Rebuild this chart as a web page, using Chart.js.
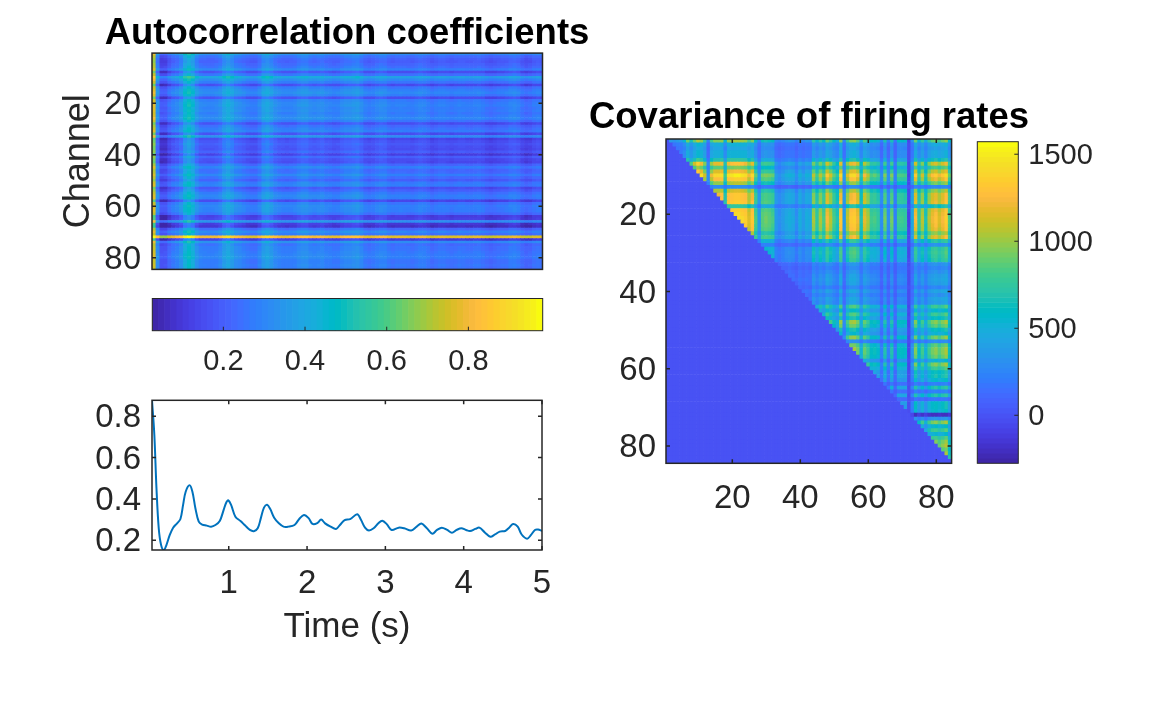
<!DOCTYPE html>
<html>
<head>
<meta charset="utf-8">
<title>Autocorrelation and covariance</title>
<script src="https://cdn.jsdelivr.net/npm/chart.js"></script>
<style>
  html, body { margin: 0; background: #fff; }
  body { position: relative; width: 1167px; height: 715px; overflow: hidden; }
  canvas { position: absolute; }
</style>
</head>
<body>
<canvas id="autoMap"></canvas>
<canvas id="autoBar"></canvas>
<canvas id="meanLine"></canvas>
<canvas id="covMap"></canvas>
<canvas id="covBar"></canvas>
<script>
// ---- data ----

// column centres (s) of the autocorrelation map
const lagColumns = [0.045,0.095,0.145,0.195,0.245,0.295,0.345,0.395,0.445,0.495,0.545,0.595,0.645,0.695,0.745,0.795,0.845,0.895,0.945,0.995,
  1.045,1.095,1.145,1.195,1.245,1.295,1.345,1.395,1.445,1.495,1.545,1.595,1.645,1.695,1.745,1.795,1.845,1.895,1.945,1.995,
  2.045,2.095,2.145,2.195,2.245,2.295,2.345,2.395,2.445,2.495,2.545,2.595,2.645,2.695,2.745,2.795,2.845,2.895,2.945,2.995,
  3.045,3.095,3.145,3.195,3.245,3.295,3.345,3.395,3.445,3.495,3.545,3.595,3.645,3.695,3.745,3.795,3.845,3.895,3.945,3.995,
  4.045,4.095,4.145,4.195,4.245,4.295,4.345,4.395,4.445,4.495,4.545,4.595,4.645,4.695,4.745,4.795,4.845,4.895,4.945,4.995];

// level of each map column
const lagLevels = [.74,.31,.165,.17,.225,.263,.284,.325,.425,.465,.42,.325,.28,.273,.268,.268,.278,.30,.36,.393,
  .355,.31,.295,.277,.258,.246,.249,.285,.352,.37,.34,.30,.28,.267,.265,.269,.275,.30,.318,.315,
  .29,.28,.29,.297,.278,.267,.257,.262,.285,.30,.302,.315,.325,.295,.26,.247,.258,.276,.292,.286,
  .26,.25,.258,.26,.258,.252,.249,.264,.278,.27,.252,.234,.245,.257,.257,.248,.238,.246,.255,.254,
  .248,.247,.255,.26,.248,.23,.218,.227,.238,.244,.248,.266,.276,.262,.226,.21,.22,.244,.252,.245];

// how far each channel (row) sits above or below the mean
const channelOffsets = [.06,-.02,-.05,-.06,-.04,-.02,.03,-.10,-.01,.12,.05,0,-.11,0,.03,.05,.02,-.10,.01,.03,
  .04,.02,.03,.01,.03,.05,0,-.10,-.03,0,.02,-.10,.06,-.12,-.09,-.07,-.09,-.10,-.06,-.14,
  -.05,-.10,-.11,-.03,.02,-.03,-.02,.03,-.02,-.06,.01,.02,-.09,-.05,0,.03,.02,-.12,0,.03,
  .02,.02,-.02,-.14,-.13,.07,-.16,-.18,-.03,.04,0,.52,-.15,.06,-.02,0,0,.01,.02,.03,0,0,.01,0];

// mean autocorrelation curve
const curveTimes = [.02,.05,.077,.106,.136,.17,.204,.247,.29,.34,.383,.417,.45,.50,.536,.574,.617,.66,.72,.775,.83,.885,.935,.97,.995,
  1.03,1.085,1.15,1.21,1.27,1.32,1.37,1.41,1.45,1.49,1.53,1.58,1.64,1.70,1.76,1.84,1.90,1.96,
  2.02,2.07,2.13,2.18,2.23,2.30,2.37,2.42,2.48,2.55,2.64,2.69,2.74,2.79,2.85,2.91,2.96,
  3.02,3.08,3.17,3.24,3.33,3.40,3.46,3.53,3.60,3.66,3.72,3.79,3.85,3.91,3.97,
  4.03,4.08,4.15,4.20,4.27,4.34,4.40,4.46,4.53,4.58,4.63,4.69,4.74,4.81,4.86,4.91,4.95,5.0];
const curveValues = [.877,.709,.452,.258,.177,.153,.177,.226,.261,.282,.303,.371,.435,.466,.435,.355,.290,.276,.271,.266,.274,.293,.347,.384,.393,
  .371,.314,.293,.271,.250,.244,.258,.307,.358,.372,.351,.309,.282,.266,.266,.274,.303,.322,
  .307,.279,.283,.300,.282,.266,.255,.274,.298,.302,.326,.298,.261,.247,.258,.282,.295,
  .277,.25,.261,.258,.247,.266,.281,.258,.232,.25,.261,.25,.237,.25,.258,
  .25,.245,.255,.261,.238,.217,.228,.242,.245,.261,.279,.266,.228,.208,.226,.25,.252,.245];

// strength of each channel in the covariance map, as row and as column
const rowWeights = [27,14,12,14,14,20,34,25,33,40,36,28,8,30,35,35,36,20,36,37,
  38,38,37,36,30,35,22,10,23,24,23,22,10,8,10,12,13,12,8,13,
  10,13,12,24,17,24,19,29,26,19,16,28,9,26,29,29,27,16,29,24,
  19,20,17,7,21,7,21,5,18,18,17,-6,10,29,17,24,16,24,28,30,26,29,31,19];
const colWeights = [27,14,12,14,14,20,34,25,33,40,36,28,8,30,35,35,36,20,36,37,
  38,38,37,36,30,35,22,10,23,24,23,22,10,8,10,12,13,12,8,13,
  10,13,12,27,20,27,22,33,28,22,18,35,10,29,35,36,32,18,31,27,
  21,22,20,8,24,8,24,6,21,21,20,-2,12,33,20,28,18,28,32,34,30,33,36,22];

const channelNumbers = [1,2,3,4,5,6,7,8,9,10,11,12,13,14,15,16,17,18,19,20,21,22,23,24,25,26,27,28,29,30,31,32,33,34,35,36,37,38,39,40,41,42,
  43,44,45,46,47,48,49,50,51,52,53,54,55,56,57,58,59,60,61,62,63,64,65,66,67,68,69,70,71,72,73,74,75,76,77,78,79,80,81,82,83,84];

// tick labels
const channelTicks = [20, 40, 60, 80];
const autoBarTicks = [0.2, 0.4, 0.6, 0.8];
const curveYTicks = [0.2, 0.4, 0.6, 0.8];
const curveXTicks = [1, 2, 3, 4, 5];
const covBarTicks = [0, 500, 1000, 1500];

// colour limits
const autoLimits = [0.026, 0.982];
const covLimits = [-276, 1572];

// parula, 64 steps
const parula = [[.2422,.1504,.6603],[.2504,.165,.7076],[.2578,.1818,.7511],[.2647,.1978,.7952],[.2706,.2147,.8364],[.2751,.2342,.871],[.2783,.2559,.8991],[.2803,.2782,.9221],
  [.2813,.3006,.9414],[.281,.3228,.9579],[.2795,.3447,.9717],[.276,.3667,.9829],[.2699,.3892,.9906],[.2602,.4123,.9952],[.244,.4358,.9988],[.2206,.4603,.9973],
  [.1963,.4847,.9892],[.1834,.5074,.9798],[.1786,.5289,.9682],[.1764,.5499,.952],[.1687,.5703,.9359],[.154,.5902,.9218],[.146,.6091,.9079],[.138,.6276,.8973],
  [.1248,.6459,.8883],[.1113,.6635,.8763],[.0952,.6798,.8598],[.0689,.6948,.8394],[.0297,.7082,.8163],[.0036,.7203,.7917],[.0067,.7312,.766],[.0433,.7411,.7394],
  [.0964,.75,.712],[.1408,.7584,.6842],[.1717,.767,.6554],[.1938,.7758,.6251],[.2161,.7843,.5923],[.247,.7918,.5567],[.2906,.7973,.5188],[.3406,.8008,.4789],
  [.3909,.8029,.4354],[.4456,.8024,.3909],[.5044,.7993,.348],[.5616,.7942,.3045],[.6174,.7876,.2612],[.672,.7793,.2227],[.7242,.7698,.191],[.7738,.7598,.1646],
  [.8203,.7498,.1535],[.8634,.7406,.1596],[.9035,.733,.1774],[.9393,.7288,.21],[.9728,.7298,.2394],[.9956,.7434,.2371],[.997,.7659,.2199],[.9952,.7861,.1963],
  [.9892,.8086,.1816],[.9786,.8297,.1746],[.9676,.8515,.1671],[.961,.872,.1537],[.9597,.8949,.1384],[.9628,.9207,.1173],[.9691,.9463,.0948],[.9763,.9831,.0538]];

// ---- helpers ----

const TEXT = '#262626';
const FONT = 'Liberation Sans';

function toColor(value, limits) {
  const pos = (value - limits[0]) / (limits[1] - limits[0]);
  const idx = Math.max(0, Math.min(63, Math.floor(pos * 64)));
  const c = parula[idx];
  return `rgb(${Math.round(c[0] * 255)},${Math.round(c[1] * 255)},${Math.round(c[2] * 255)})`;
}

// box and inward tick marks, the way MATLAB draws its axes
const axesBox = {
  id: 'axesBox',
  afterDatasetsDraw(chart, args, opts) {
    const { ctx, chartArea: a } = chart;
    ctx.save();
    ctx.strokeStyle = TEXT;
    ctx.lineWidth = opts.width;
    ctx.strokeRect(a.left, a.top, a.right - a.left, a.bottom - a.top);
    const len = opts.tick;
    ctx.beginPath();
    Object.values(chart.scales).forEach(s => {
      if (!s.options.display) return;
      s.ticks.forEach(t => {
        const p = s.getPixelForValue(t.value);
        if (s.isHorizontal()) {
          ctx.moveTo(p, a.bottom); ctx.lineTo(p, a.bottom - len);
          if (opts.mirror) { ctx.moveTo(p, a.top); ctx.lineTo(p, a.top + len); }
        } else if (s.position === 'right') {
          ctx.moveTo(a.right, p); ctx.lineTo(a.right - len, p);
        } else {
          ctx.moveTo(a.left, p); ctx.lineTo(a.left + len, p);
          if (opts.mirror) { ctx.moveTo(a.right, p); ctx.lineTo(a.right - len, p); }
        }
      });
    });
    ctx.stroke();
    ctx.restore();
  }
};

function shownAxis(min, max, ticks, size, fontSize, pad, extra) {
  return Object.assign({
    type: 'linear', min: min, max: max, offset: false,
    grid: { display: false, drawTicks: false, offset: false },
    border: { display: false },
    afterBuildTicks: s => { s.ticks = ticks.map(v => ({ value: v })); },
    afterFit: s => {
      if (s.isHorizontal()) s.height = size; else s.width = size;
      s.paddingLeft = s.paddingRight = s.paddingTop = s.paddingBottom = 0;
    },
    ticks: {
      color: TEXT, padding: pad, autoSkip: false, maxRotation: 0,
      labelOffset: 0,
      font: { family: FONT, size: fontSize },
      callback: v => String(v)
    }
  }, extra);
}

// same axis for a vertical scale, labels nudged to sit on their tick
function shownYAxis(min, max, ticks, size, fontSize, pad, extra) {
  const axis = shownAxis(min, max, ticks, size, fontSize, pad, extra);
  axis.ticks.labelOffset = 2;
  return axis;
}

function hiddenAxis(min, max) {
  return { type: 'linear', display: false, min: min, max: max, offset: false, grid: { offset: false } };
}

// empty axis on the right, keeps the title centred over the plot
function spacerAxis(size) {
  return {
    axis: 'y', type: 'linear', position: 'right', offset: false,
    grid: { display: false, drawTicks: false },
    border: { display: false },
    ticks: { display: false },
    afterBuildTicks: s => { s.ticks = []; },
    afterFit: s => { s.width = size; s.paddingTop = s.paddingBottom = 0; }
  };
}

function makeChart(id, left, top, width, height, config) {
  const el = document.getElementById(id);
  el.width = width;
  el.height = height;
  el.style.left = left + 'px';
  el.style.top = top + 'px';
  el.style.width = width + 'px';
  el.style.height = height + 'px';
  const o = config.options;
  o.responsive = false;
  o.animation = false;
  o.events = [];
  o.plugins = Object.assign({ legend: { display: false }, tooltip: { enabled: false } }, o.plugins);
  config.plugins = [axesBox];
  return new Chart(el, config);
}

function titleOptions(text, padTop, padBottom) {
  return {
    display: true, text: text, color: '#000', padding: { top: padTop, bottom: padBottom },
    font: { family: FONT, size: 36.5, weight: 'bold', lineHeight: 1 }
  };
}

function cellDataset(cells, limits) {
  return {
    data: cells,
    backgroundColor: cells.map(c => toColor(c.value, limits)),
    borderWidth: 0,
    barPercentage: 1,
    categoryPercentage: 1
  };
}

// ---- autocorrelation map ----

const autoCells = [];
channelNumbers.forEach((ch, r) => {
  lagColumns.forEach((t, c) => {
    autoCells.push({ x: t, y: [ch - 0.5, ch + 0.5], value: lagLevels[c] + channelOffsets[r] });
  });
});

makeChart('autoMap', 52, 0, 590, 300, {
  type: 'bar',
  data: { datasets: [cellDataset(autoCells, autoLimits)] },
  options: {
    layout: { padding: { left: 0, right: 0, top: 0, bottom: 30.6 } },
    plugins: {
      title: titleOptions('Autocorrelation coefficients', 15.5, 1.1),
      axesBox: { width: 1.5, tick: 4, mirror: true }
    },
    scales: {
      x: hiddenAxis(0.02, 5),
      y: shownYAxis(0.5, 84.5, channelTicks, 100, 33, 11, {
        reverse: true,
        title: { display: true, text: 'Channel', color: TEXT, padding: { top: 5, bottom: 0 }, font: { family: FONT, size: 36 } }
      }),
      spacer: spacerAxis(99.5)
    }
  }
});

// ---- colour bar under the map ----

const autoStep = (autoLimits[1] - autoLimits[0]) / parula.length;
const autoBarCells = parula.map((c, i) => {
  const v = autoLimits[0] + autoStep * (i + 0.5);
  return { x: v, y: [0, 1], value: v };
});

makeChart('autoBar', 100, 280, 500, 100, {
  type: 'bar',
  data: { datasets: [cellDataset(autoBarCells, autoLimits)] },
  options: {
    layout: { padding: { left: 52.3, right: 57.3, top: 18.5, bottom: 0 } },
    plugins: { axesBox: { width: 1, tick: 4, mirror: false } },
    scales: {
      x: shownAxis(autoLimits[0], autoLimits[1], autoBarTicks, 49.3, 29, 14, {}),
      y: hiddenAxis(0, 1)
    }
  }
});

// ---- mean curve ----

makeChart('meanLine', 52, 380, 590, 280, {
  type: 'line',
  data: {
    datasets: [{
      data: curveTimes.map((t, i) => ({ x: t, y: curveValues[i] })),
      borderColor: '#0072BD',
      borderWidth: 2,
      pointRadius: 0,
      tension: 0.35
    }]
  },
  options: {
    layout: { padding: { left: 0, right: 100, top: 20.3, bottom: 0 } },
    plugins: { axesBox: { width: 1.5, tick: 4, mirror: true } },
    scales: {
      x: shownAxis(0.02, 5, curveXTicks, 110, 33, 14, {
        title: { display: true, text: 'Time (s)', color: TEXT, padding: { top: 0, bottom: 12 }, font: { family: FONT, size: 35 } }
      }),
      y: shownYAxis(0.153, 0.877, curveYTicks, 100, 33, 11, {})
    }
  }
});

// ---- covariance map, only the upper triangle holds values ----

const covCells = [];
channelNumbers.forEach((row, r) => {
  channelNumbers.forEach((col, c) => {
    const v = col > row ? rowWeights[r] * colWeights[c] : 0;
    covCells.push({ x: col, y: [row - 0.5, row + 0.5], value: v });
  });
});

makeChart('covMap', 580, 90, 458, 440, {
  type: 'bar',
  data: { datasets: [cellDataset(covCells, covLimits)] },
  options: {
    layout: { padding: { left: 0, right: 0, top: 0, bottom: 0 } },
    plugins: {
      title: titleOptions('Covariance of firing rates', 10, 2.5),
      axesBox: { width: 1.5, tick: 4, mirror: true }
    },
    scales: {
      x: shownAxis(0.5, 84.5, channelTicks, 66.7, 33, 16, {}),
      y: shownYAxis(0.5, 84.5, channelTicks, 86, 33, 10, { reverse: true }),
      spacer: spacerAxis(86.4)
    }
  }
});

// ---- colour bar of the covariance map ----

const covStep = (covLimits[1] - covLimits[0]) / parula.length;
const covBarCells = parula.map((c, i) => {
  const v = covLimits[0] + covStep * (i + 0.5);
  return { y: v, x: [0, 1], value: v };
});

makeChart('covBar', 950, 120, 170, 360, {
  type: 'bar',
  data: { datasets: [cellDataset(covBarCells, covLimits)] },
  options: {
    indexAxis: 'y',
    layout: { padding: { left: 27.3, right: 1.7, top: 21.7, bottom: 16.7 } },
    plugins: { axesBox: { width: 1, tick: 4, mirror: false } },
    scales: {
      x: hiddenAxis(0, 1),
      y: shownYAxis(covLimits[0], covLimits[1], covBarTicks, 100, 29, 10, { position: 'right' })
    }
  }
});
</script>
</body>
</html>
